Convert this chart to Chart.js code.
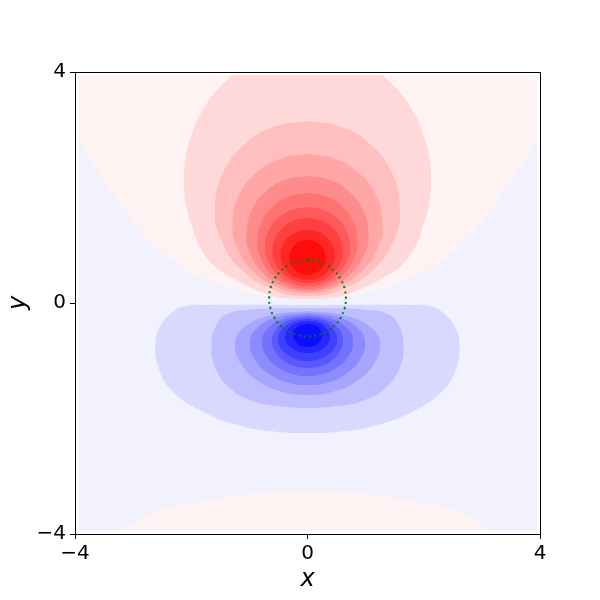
<!DOCTYPE html>
<html>
<head>
<meta charset="utf-8">
<script src="https://cdn.jsdelivr.net/npm/chart.js@4/dist/chart.umd.min.js"></script>
<style>
  html, body { margin: 0; padding: 0; background: #fff; }
</style>
</head>
<body>
<canvas id="grafiek" width="600" height="600"></canvas>
<script>
// as-ticks
var xTicks = [-4, 0, 4];
var yTicks = [-4, 0, 4];

// kleurwaarden (groen/blauw-kanaal) per contourlaag, van buiten naar binnen
var roodG = [242, 217, 191, 166, 140, 115, 89, 64, 38, 13];
var blauwG = [242, 217, 191, 166, 140, 115, 89, 64, 38, 13];

// gekleurd vlak (achtergrond, eerste negatieve laag)
var vlak = [[-3.95, -3.95], [3.95, -3.95], [3.95, 3.95], [-3.95, 3.95]];

var rood1 = [[3.95, 3.95], [3.95, 2.82], [3.66, 2.36], [3.31, 1.84], [2.97, 1.37], [2.71, 1.06], [2.37, 0.78],
             [2.02, 0.54], [1.56, 0.33], [0.99, 0.17], [0.42, 0.09], [0, 0.052]];
var rood1onder = [[3.18, -3.95], [2.54, -3.58], [1.68, -3.41], [0.82, -3.29], [0, -3.255]];
var rood2 = [[1.291, 3.95], [1.601, 3.636], [1.802, 3.342], [1.967, 2.996], [2.088, 2.563], [2.126, 2.13], [2.088, 1.697],
             [1.967, 1.264], [1.824, 0.918], [1.583, 0.623], [1.239, 0.398], [0.878, 0.225], [0.516, 0.104], [0, 0.069]];
var rood3 = [[0, 3.151], [0.544, 3.06], [1.024, 2.797], [1.442, 2.277], [1.592, 1.636], [1.496, 1.118], [1.126, 0.565], [0.544, 0.212], [0, 0.121]];
var rood4 = [[0, 2.58], [0.442, 2.508], [0.83, 2.299], [1.17, 1.886], [1.291, 1.377], [1.214, 0.966], [0.913, 0.526], [0.442, 0.246], [0, 0.174]];
var rood5 = [[0, 2.199], [0.359, 2.139], [0.675, 1.966], [0.951, 1.624], [1.05, 1.203], [0.987, 0.862], [0.742, 0.499], [0.359, 0.267], [0, 0.207]];
var rood6 = [[0, 1.905], [0.294, 1.855], [0.554, 1.711], [0.78, 1.426], [0.861, 1.074], [0.809, 0.79], [0.609, 0.486], [0.294, 0.293], [0, 0.243]];
var rood7 = [[0, 1.662], [0.25, 1.621], [0.47, 1.502], [0.662, 1.267], [0.731, 0.978], [0.687, 0.744], [0.517, 0.494], [0.25, 0.335], [0, 0.294]];
var rood8 = [[0, 1.472], [0.206, 1.438], [0.387, 1.34], [0.545, 1.147], [0.602, 0.909], [0.566, 0.716], [0.426, 0.511], [0.206, 0.38], [0, 0.346]];
var rood9 = [[0, 1.264], [0.159, 1.238], [0.299, 1.163], [0.421, 1.014], [0.465, 0.831], [0.437, 0.683], [0.329, 0.525], [0.159, 0.424], [0, 0.398]];
var rood10 = [[0, 1.091], [0.106, 1.073], [0.199, 1.02], [0.281, 0.916], [0.31, 0.788], [0.291, 0.684], [0.219, 0.574], [0.106, 0.503], [0, 0.485]];

var blauw2 = [[0, -0.035], [1.721, -0.035], [2.1, -0.052], [2.341, -0.173], [2.53, -0.398], [2.616, -0.693], [2.565, -1.108],
              [2.358, -1.489], [1.859, -1.853], [1.205, -2.113], [0.516, -2.234], [0, -2.251]];
var blauw3 = [[0, -0.087], [0.688, -0.095], [1.033, -0.121], [1.343, -0.173], [1.549, -0.346], [1.652, -0.727], [1.583, -1.126],
              [1.343, -1.472], [0.947, -1.697], [0.516, -1.784], [0, -1.818]];
var blauw4 = [[0, -0.139], [0.624, -0.213], [1.081, -0.416], [1.248, -0.693], [1.131, -1.074], [0.802, -1.382], [0.427, -1.539], [0, -1.593]];
var blauw5 = [[0, -0.173], [0.495, -0.24], [0.857, -0.424], [0.99, -0.675], [0.897, -0.99], [0.637, -1.246], [0.339, -1.375], [0, -1.42]];
var blauw6 = [[0, -0.208], [0.392, -0.268], [0.678, -0.433], [0.783, -0.658], [0.709, -0.914], [0.503, -1.122], [0.268, -1.228], [0, -1.264]];
var blauw7 = [[0, -0.243], [0.306, -0.296], [0.529, -0.442], [0.611, -0.641], [0.554, -0.846], [0.393, -1.013], [0.209, -1.097], [0, -1.126]];
var blauw8 = [[0, -0.277], [0.254, -0.323], [0.44, -0.45], [0.508, -0.623], [0.46, -0.784], [0.327, -0.915], [0.174, -0.981], [0, -1.004]];
var blauw9 = [[0, -0.312], [0.194, -0.349], [0.335, -0.45], [0.387, -0.589], [0.351, -0.706], [0.249, -0.801], [0.132, -0.849], [0, -0.866]];
var blauw10 = [[0, -0.364], [0.125, -0.389], [0.217, -0.459], [0.25, -0.554], [0.227, -0.642], [0.161, -0.713], [0.086, -0.75], [0, -0.762]];

// groene stippelcirkel (rechterhelft)
var cirkel = [[0, 0.74], [0.171, 0.718], [0.33, 0.652], [0.467, 0.547], [0.572, 0.41], [0.638, 0.251], [0.66, 0.08],
              [0.638, -0.091], [0.572, -0.25], [0.467, -0.387], [0.33, -0.492], [0.171, -0.558], [0, -0.58]];

function spiegel(helft, sluit) {
    // maak van een rechterhelft een hele vorm (figuur is symmetrisch rond x = 0)
    var punten = helft.map(function (p) { return { x: p[0], y: p[1] }; });
    var links = helft.filter(function (p) { return p[0] !== 0; }).reverse()
        .map(function (p) { return { x: -p[0], y: p[1] }; });
    punten = punten.concat(links);
    if (sluit) punten.push(punten[0]); // vorm sluiten
    return punten;
}

function laag(punten, kleur, spanning) {
    // gevulde contourlaag
    return {
        data: punten, showLine: true, fill: 'shape',
        backgroundColor: kleur, borderColor: kleur, borderWidth: 0,
        pointRadius: 0, pointHoverRadius: 0, tension: spanning
    };
}

function rood(i) { return 'rgb(255,' + roodG[i] + ',' + roodG[i] + ')'; }
function blauw(i) { return 'rgb(' + blauwG[i] + ',' + blauwG[i] + ',255)'; }

var datasets = [
    laag(vlak.map(function (p) { return { x: p[0], y: p[1] }; }), blauw(0), 0),
    laag(spiegel(rood1, false), rood(0), 0),
    laag(spiegel(rood1onder, false), rood(0), 0.3),
    laag(spiegel(rood2, false), rood(1), 0.4)
];
[rood3, rood4, rood5, rood6, rood7, rood8, rood9, rood10].forEach(function (c, i) {
    datasets.push(laag(spiegel(c, true), rood(i + 2), 0.45));
});
[blauw2, blauw3, blauw4, blauw5, blauw6, blauw7, blauw8, blauw9, blauw10].forEach(function (c, i) {
    datasets.push(laag(spiegel(c, true), blauw(i + 1), 0.45));
});
datasets.push({
    data: spiegel(cirkel, true), showLine: true, fill: false,
    borderColor: 'rgb(0,128,0)', borderWidth: 2, borderDash: [2, 3.3],
    pointRadius: 0, pointHoverRadius: 0, tension: 0.4
});
// latere lagen bovenop tekenen
datasets.forEach(function (d, i) { d.order = datasets.length - i; });

function tickLabel(v) {
    return v < 0 ? '\u2212' + (-v) : '' + v;
}

// kader rond het plotvlak
var kader = {
    id: 'kader',
    afterDatasetsDraw: function (chart) {
        var a = chart.chartArea, ctx = chart.ctx;
        ctx.save();
        ctx.strokeStyle = '#000';
        ctx.lineWidth = 1;
        ctx.strokeRect(Math.round(a.left) + 0.5, Math.round(a.top) + 0.5, Math.round(a.right - a.left), Math.round(a.bottom - a.top));
        ctx.restore();
    }
};

Chart.defaults.font.family = 'DejaVu Sans';
Chart.defaults.color = '#000';

new Chart(document.getElementById('grafiek'), {
    type: 'scatter',
    data: { datasets: datasets },
    options: {
        responsive: false,
        animation: false,
        devicePixelRatio: 1,
        layout: { padding: { top: 72, right: 60, left: 0, bottom: 0 } },
        plugins: { legend: { display: false }, tooltip: { enabled: false } },
        scales: {
            x: {
                type: 'linear', min: -4, max: 4,
                afterBuildTicks: function (s) { s.ticks = xTicks.map(function (v) { return { value: v }; }); },
                afterFit: function (s) { s.height = 66; },
                grid: { drawOnChartArea: false, drawTicks: true, tickLength: 5, tickColor: '#000' },
                border: { display: true, color: '#000' },
                ticks: { font: { size: 20 }, padding: 3, maxRotation: 0, callback: tickLabel },
                title: { display: true, text: 'x', font: { size: 24, style: 'italic' }, padding: { top: 0, bottom: 6 } }
            },
            y: {
                type: 'linear', min: -4, max: 4,
                afterBuildTicks: function (s) { s.ticks = yTicks.map(function (v) { return { value: v }; }); },
                afterFit: function (s) { s.width = 75; },
                grid: { drawOnChartArea: false, drawTicks: true, tickLength: 5, tickColor: '#000' },
                border: { display: true, color: '#000' },
                ticks: { font: { size: 20 }, padding: 4, callback: tickLabel },
                title: { display: true, text: 'y', font: { size: 24, style: 'italic' }, padding: { top: 4, bottom: 0 } }
            }
        }
    },
    plugins: [kader]
});
</script>
</body>
</html>
